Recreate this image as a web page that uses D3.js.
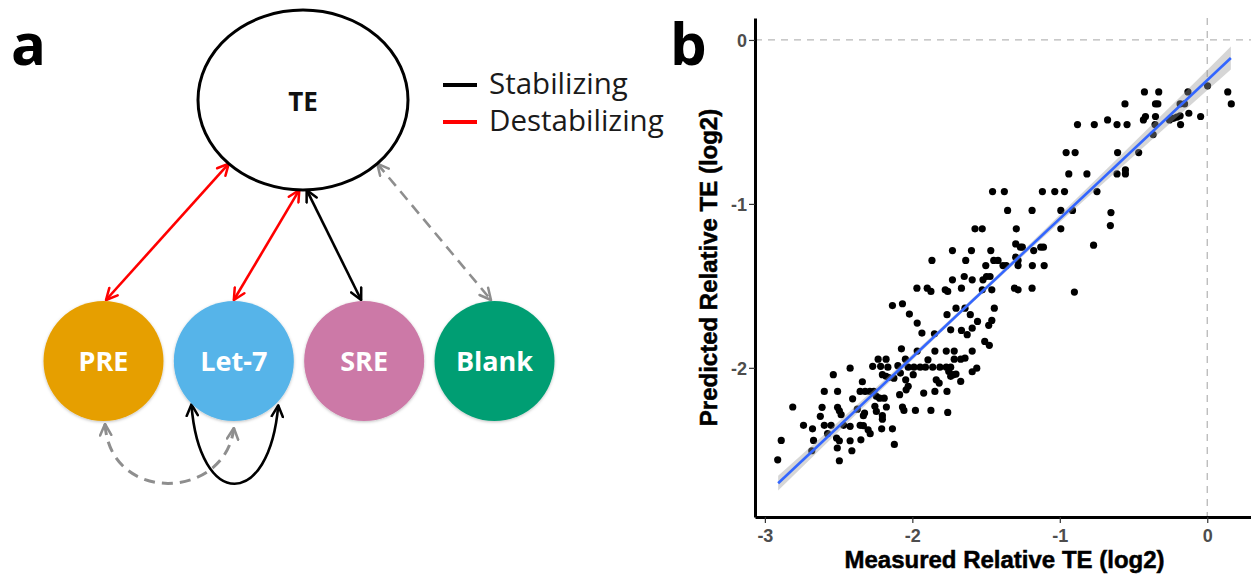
<!DOCTYPE html>
<html>
<head>
<meta charset="utf-8">
<script src="https://cdn.jsdelivr.net/npm/d3@7"></script>
<style>
  html, body { margin: 0; padding: 0; background: #ffffff; }
  svg { display: block; }
</style>
</head>
<body>
<svg id="fig" width="1251" height="575"></svg>
<script>
// ---------- Panel a: regulatory element network ----------
const hubName = "TE";
const elementNames = ["PRE", "Let-7", "SRE", "Blank"];
const elementColors = ["#E69F00", "#56B4E9", "#CC79A7", "#009E73"];
const legendLabels = ["Stabilizing", "Destabilizing"];
const legendColors = ["#000000", "#FF0000"];
// effect of each element on TE
const hubEffects = ["destabilizing", "destabilizing", "stabilizing", "none"];
// interactions between elements: [source, target, effect]
const pairEffects = [["PRE", "Let-7", "none"], ["Let-7", "Let-7", "stabilizing"]];

// ---------- Panel b: measured vs predicted relative TE (log2) ----------
const observations = [
  [-0.426,-0.317],[-0.329,-0.317],[-0.131,-0.317],[0.002,-0.280],[0.139,-0.317],[0.163,-0.390],
  [-0.558,-0.390],[-0.351,-0.390],[-0.335,-0.390],[-0.184,-0.390],[-0.154,-0.390],
  [-0.419,-0.467],[-0.433,-0.488],[-0.351,-0.467],[-0.354,-0.516],[-0.256,-0.488],[-0.229,-0.478],
  [-0.206,-0.471],[-0.184,-0.463],[-0.181,-0.516],[-0.125,-0.447],[-0.045,-0.467],[-0.367,-0.577],
  [-0.880,-0.516],[-0.766,-0.516],[-0.676,-0.488],[-0.612,-0.516],[-0.544,-0.516],
  [-0.957,-0.687],[-0.896,-0.687],[-0.608,-0.687],[-0.465,-0.687],
  [-0.939,-0.817],[-0.816,-0.817],[-0.612,-0.817],[-0.555,-0.817],[-0.555,-0.793],
  [-1.376,-0.925],[-1.118,-0.925],[-1.034,-0.925],[-0.968,-0.925],[-0.748,-0.925],[-1.456,-0.925],
  [-1.354,-1.040],[-1.188,-1.040],[-0.993,-1.040],[-0.914,-1.040],[-0.653,-1.053],
  [-0.993,-1.152],[-0.657,-1.132],[-1.295,-1.152],[-1.575,-1.152],[-1.526,-1.152],
  [-0.771,-1.252],[-1.299,-1.244],[-1.267,-1.264],[-1.254,-1.264],[-1.177,-1.285],[-1.129,-1.264],
  [-1.111,-1.264],[-1.728,-1.285],[-1.599,-1.285],[-1.468,-1.285],
  [-1.283,-1.345],[-1.299,-1.325],[-1.867,-1.345],[-1.638,-1.345],[-1.448,-1.345],[-1.419,-1.345],
  [-1.186,-1.376],[-1.106,-1.376],[-1.363,-1.376],[-1.385,-1.376],[-1.283,-1.376],[-1.502,-1.376],
  [-1.648,-1.443],[-1.497,-1.443],[-1.473,-1.443],
  [-1.728,-1.463],[-1.594,-1.463],[-1.521,-1.463],
  [-1.969,-1.514],[-1.899,-1.514],[-1.874,-1.534],[-1.777,-1.524],[-1.760,-1.534],[-1.667,-1.514],
  [-1.526,-1.524],[-1.461,-1.524],[-1.307,-1.514],[-1.283,-1.524],[-1.188,-1.514],[-0.901,-1.538],
  [-2.135,-1.620],[-2.067,-1.609],[-1.704,-1.636],[-1.643,-1.636],[-1.444,-1.636],[-1.765,-1.676],
  [-2.020,-1.672],[-1.607,-1.676],[-1.558,-1.717],[-1.461,-1.711],[-1.482,-1.741],
  [-1.967,-1.727],[-1.740,-1.768],[-1.667,-1.772],[-1.594,-1.758],[-1.628,-1.798],[-1.935,-1.788],
  [-1.850,-1.792],
  [-1.509,-1.839],[-1.478,-1.863],[-2.074,-1.884],[-1.967,-1.898],[-1.847,-1.898],[-1.770,-1.898],
  [-1.716,-1.898],[-1.594,-1.898],[-1.716,-1.947],[-1.672,-1.947],[-1.643,-1.941],
  [-2.422,-2.002],[-2.232,-1.947],[-2.178,-1.947],[-2.269,-1.991],[-2.215,-1.991],[-2.166,-1.996],
  [-2.098,-1.987],[-2.047,-1.947],[-2.028,-1.996],[-1.989,-1.996],[-1.947,-1.996],[-1.911,-1.996],
  [-1.894,-1.951],[-1.862,-1.996],[-1.813,-1.996],[-1.770,-1.996],[-1.740,-1.996],[-1.563,-2.002],
  [-1.594,-2.024],[-1.723,-2.042],[-1.704,-2.038],
  [-2.536,-2.042],[-2.203,-2.042],[-2.178,-2.052],[-2.159,-2.059],[-2.125,-2.063],[-2.081,-2.032],
  [-2.045,-2.073],[-1.994,-2.042],[-1.838,-2.073],[-1.818,-2.093],[-1.753,-2.022],[-1.740,-2.052],
  [-1.672,-2.083],
  [-2.597,-2.144],[-2.507,-2.144],[-2.339,-2.085],[-2.354,-2.144],[-2.320,-2.144],[-2.288,-2.144],
  [-2.261,-2.144],[-2.222,-2.185],[-2.191,-2.185],[-2.086,-2.164],[-2.042,-2.134],[-2.028,-2.113],
  [-1.923,-2.154],[-1.847,-2.144],[-1.765,-2.144],
  [-2.405,-2.189],[-2.244,-2.174],[-2.254,-2.235],[-2.176,-2.239],[-2.067,-2.239],[-2.057,-2.260],
  [-1.979,-2.260],[-1.874,-2.260],[-1.760,-2.272],[-2.612,-2.241],[-2.811,-2.239],[-2.507,-2.241],
  [-2.495,-2.262],[-2.373,-2.252],[-2.324,-2.276],[-2.244,-2.266],
  [-2.624,-2.296],[-2.483,-2.286],[-2.332,-2.292],[-2.203,-2.292],[-2.203,-2.313],
  [-2.738,-2.351],[-2.677,-2.372],[-2.597,-2.351],[-2.551,-2.351],[-2.466,-2.351],[-2.422,-2.357],
  [-2.354,-2.351],[-2.332,-2.353],[-2.300,-2.378],[-2.208,-2.372],[-2.135,-2.372],[-2.575,-2.402],
  [-2.286,-2.402],
  [-2.889,-2.443],[-2.670,-2.443],[-2.514,-2.428],[-2.495,-2.445],[-2.422,-2.445],[-2.349,-2.439],
  [-2.122,-2.467],
  [-2.682,-2.506],[-2.509,-2.489],[-2.410,-2.506],[-2.913,-2.561],[-2.495,-2.567]
];
// linear fit and its confidence band
const fitX = [-2.91, 0.16];
const fitY = [-2.704, -0.110];
const bandX  = [-2.91, -2.5, -2.0, -1.65, -1.2, -0.8, -0.4, 0.0, 0.16];
const bandLo = [-2.749, -2.388, -1.953, -1.652, -1.277, -0.951, -0.628, -0.307, -0.180];
const bandHi = [-2.659, -2.328, -1.917, -1.626, -1.241, -0.891, -0.538, -0.183, -0.040];
const xTicks = [-3, -2, -1, 0];
const yTicks = [0, -1, -2];
const xTitle = "Measured Relative TE (log2)";
const yTitle = "Predicted Relative TE (log2)";

const svg = d3.select("#fig");
const defs = svg.append("defs");

// open chevron arrowheads, one per stroke colour
const arrowColors = { black: "#000000", red: "#FF0000", gray: "#8E8E8E" };
Object.entries(arrowColors).forEach(([key, col]) => {
  defs.append("marker")
    .attr("id", "arrow-" + key)
    .attr("viewBox", "0 0 10 10")
    .attr("refX", 9).attr("refY", 5)
    .attr("markerUnits", "userSpaceOnUse")
    .attr("markerWidth", 14).attr("markerHeight", 14)
    .attr("orient", "auto-start-reverse")
    .append("path")
    .attr("d", "M1,1 L9,5 L1,9")
    .attr("fill", "none")
    .attr("stroke", col)
    .attr("stroke-width", 1.8)
    .attr("stroke-linecap", "round")
    .attr("stroke-linejoin", "round");
});

const shadow = defs.append("filter").attr("id", "soft")
  .attr("x", "-20%").attr("y", "-20%").attr("width", "140%").attr("height", "140%");
shadow.append("feDropShadow").attr("dx", 0).attr("dy", 1).attr("stdDeviation", 1.6)
  .attr("flood-color", "#000").attr("flood-opacity", 0.25);

const effectStyle = {
  stabilizing:   { color: "#000000", marker: "black", dash: null },
  destabilizing: { color: "#FF0000", marker: "red",   dash: null },
  none:          { color: "#8E8E8E", marker: "gray",  dash: "11,7" }
};

// ----- panel a layout -----
const gA = svg.append("g");
const hub = { x: 303, y: 100, rx: 105, ry: 90 };
const nodeR = 60, nodeY = 361;
const nodeX = d3.scalePoint().domain(elementNames).range([103.5, 494.5]);
const hubAngles = [135, 92, 88, 45]; // where each link leaves the TE ellipse (deg)

// links from TE to each element
elementNames.forEach((name, i) => {
  const a = hubAngles[i] * Math.PI / 180;
  const p1 = [hub.x + hub.rx * Math.cos(a), hub.y + hub.ry * Math.sin(a)];
  const p2 = [nodeX(name) + (i === 0 ? 2.5 : i === 2 ? -3 : i === 3 ? -3.5 : 0), nodeY - nodeR - 1];
  const st = effectStyle[hubEffects[i]];
  gA.append("line")
    .attr("x1", p1[0]).attr("y1", p1[1]).attr("x2", p2[0]).attr("y2", p2[1])
    .attr("stroke", st.color).attr("stroke-width", 2.6)
    .attr("stroke-dasharray", st.dash)
    .attr("marker-start", `url(#arrow-${st.marker})`)
    .attr("marker-end", `url(#arrow-${st.marker})`);
});

// interactions drawn below the element row
pairEffects.forEach(([s, t, eff]) => {
  const st = effectStyle[eff];
  let d;
  if (s === t) {
    const cx = nodeX(s);
    const a1 = 135 * Math.PI / 180, a2 = 45 * Math.PI / 180;
    const p1 = [cx + nodeR * Math.cos(a1), nodeY + nodeR * Math.sin(a1) + 1];
    const p2 = [cx + nodeR * Math.cos(a2) + 2, nodeY + nodeR * Math.sin(a2) + 2];
    d = `M${p1[0]},${p1[1]} C${p1[0] + 8},510 ${p2[0] - 9},510 ${p2[0]},${p2[1]}`;
  } else {
    const x1 = nodeX(s) + 1.5, x2 = nodeX(t);
    const y1 = nodeY + nodeR + 3, y2 = nodeY + nodeR + 7;
    d = `M${x1},${y1} C${x1 + 5},505 ${x2 - 8},500 ${x2},${y2}`;
  }
  gA.append("path").attr("d", d)
    .attr("fill", "none")
    .attr("stroke", st.color).attr("stroke-width", st.dash ? 3 : 2.6)
    .attr("stroke-dasharray", st.dash)
    .attr("marker-start", `url(#arrow-${st.marker})`)
    .attr("marker-end", `url(#arrow-${st.marker})`);
});

// TE hub
gA.append("ellipse")
  .attr("cx", hub.x).attr("cy", hub.y).attr("rx", hub.rx).attr("ry", hub.ry)
  .attr("fill", "#ffffff").attr("stroke", "#000").attr("stroke-width", 3);
gA.append("text").text(hubName)
  .attr("x", hub.x).attr("y", hub.y + 11)
  .attr("text-anchor", "middle")
  .attr("font-family", "'Open Sans', sans-serif").attr("font-weight", 700)
  .attr("font-size", 26).attr("fill", "#111");

// element nodes
const nodes = gA.selectAll("g.node").data(elementNames).join("g").attr("class", "node");
nodes.append("circle")
  .attr("cx", d => nodeX(d)).attr("cy", nodeY).attr("r", nodeR)
  .attr("fill", (d, i) => elementColors[i])
  .attr("filter", "url(#soft)");
nodes.append("text").text(d => d)
  .attr("x", d => nodeX(d)).attr("y", nodeY + 10)
  .attr("text-anchor", "middle")
  .attr("font-family", "'Open Sans', sans-serif").attr("font-weight", 700)
  .attr("font-size", 27).attr("fill", "#ffffff");

// legend
legendLabels.forEach((lab, i) => {
  const yy = 85 + i * 37;
  gA.append("line").attr("x1", 443).attr("x2", 477).attr("y1", yy).attr("y2", yy)
    .attr("stroke", legendColors[i]).attr("stroke-width", 4);
  gA.append("text").text(lab)
    .attr("x", 489).attr("y", yy + 9)
    .attr("font-family", "'Open Sans', sans-serif").attr("font-size", 29.5)
    .attr("fill", "#1a1a1a");
});

// panel letters
[["a", 11], ["b", 670]].forEach(([t, xx]) => {
  svg.append("text").text(t).attr("x", xx).attr("y", 65)
    .attr("font-family", "'Open Sans', sans-serif").attr("font-weight", 700)
    .attr("font-size", 58).attr("fill", "#000");
});

// ----- panel b: scatter -----
const gB = svg.append("g");
const x = d3.scaleLinear().domain([-3.067, 0.317]).range([755, 1254]);
const y = d3.scaleLinear().domain([-2.91, 0.134]).range([517, 18]);

// reference lines at zero
gB.append("line")
  .attr("x1", x.range()[0]).attr("x2", x.range()[1])
  .attr("y1", y(0)).attr("y2", y(0))
  .attr("stroke", "#b8b8b8").attr("stroke-width", 1.3).attr("stroke-dasharray", "7,6");
gB.append("line")
  .attr("x1", x(0)).attr("x2", x(0))
  .attr("y1", y.range()[1]).attr("y2", y.range()[0])
  .attr("stroke", "#b8b8b8").attr("stroke-width", 1.3).attr("stroke-dasharray", "7,6");

// points
gB.append("g").selectAll("circle").data(observations).join("circle")
  .attr("cx", d => x(d[0])).attr("cy", d => y(d[1])).attr("r", 3.6)
  .attr("fill", "#000");

// confidence band and fitted line
const band = bandX.map((v, i) => ({ x: v, lo: bandLo[i], hi: bandHi[i] }));
gB.append("path").datum(band)
  .attr("d", d3.area().x(d => x(d.x)).y0(d => y(d.lo)).y1(d => y(d.hi)).curve(d3.curveMonotoneX))
  .attr("fill", "#999999").attr("fill-opacity", 0.4);
gB.append("path").datum(fitX.map((v, i) => [v, fitY[i]]))
  .attr("d", d3.line().x(d => x(d[0])).y(d => y(d[1])))
  .attr("fill", "none").attr("stroke", "#3366FF").attr("stroke-width", 2.6);

// axes
const tickFont = g => g.selectAll(".tick text")
  .attr("font-family", "'Liberation Sans', Arial, sans-serif")
  .attr("font-weight", 700).attr("font-size", 18).attr("fill", "#4D4D4D");

const xAxis = gB.append("g").attr("transform", `translate(0,${y.range()[0]})`)
  .call(d3.axisBottom(x).tickValues(xTicks).tickFormat(d => String(d))
    .tickSize(6).tickSizeOuter(0).tickPadding(6));
xAxis.call(tickFont);
const yAxis = gB.append("g").attr("transform", `translate(${x.range()[0]},0)`)
  .call(d3.axisLeft(y).tickValues(yTicks).tickFormat(d => String(d))
    .tickSize(6).tickSizeOuter(0).tickPadding(2));
yAxis.call(tickFont);
[xAxis, yAxis].forEach(ax => {
  ax.select(".domain").attr("stroke", "#000").attr("stroke-width", 3);
  ax.selectAll(".tick line").attr("stroke", "#333").attr("stroke-width", 1.2);
});
yAxis.selectAll(".tick text").attr("dy", "0.36em");

// axis titles
const titleStyle = t => t
  .attr("text-anchor", "middle")
  .attr("font-family", "'Liberation Sans', Arial, sans-serif")
  .attr("font-weight", 700).attr("font-size", 24)
  .attr("fill", "#000").attr("stroke", "#000").attr("stroke-width", 0.5);
gB.append("text").text(xTitle)
  .attr("x", (x.range()[0] + x.range()[1]) / 2).attr("y", 568)
  .call(titleStyle);
gB.append("text").text(yTitle)
  .attr("transform", `translate(717,${(y.range()[0] + y.range()[1]) / 2}) rotate(-90)`)
  .call(titleStyle);
</script>
</body>
</html>
